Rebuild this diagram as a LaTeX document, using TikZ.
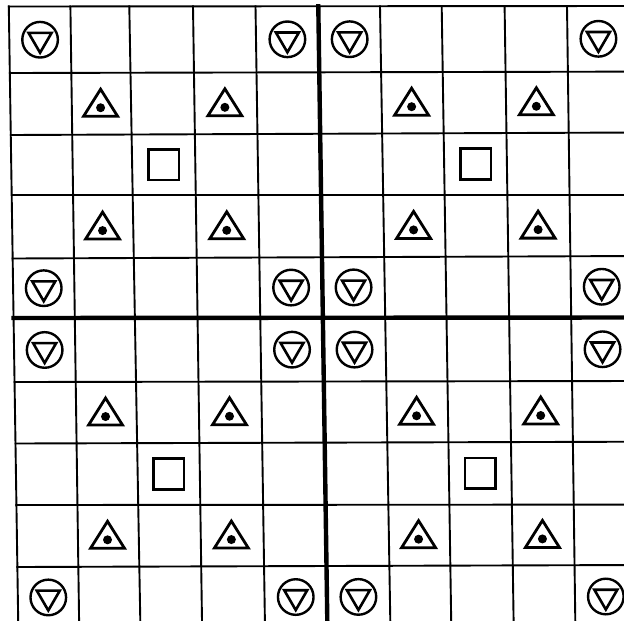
\documentclass[tikz,border=0pt]{standalone}
\begin{document}
\begin{tikzpicture}[x=1pt,y=-1pt,
  gridline/.style={line width=1.9pt, black, line cap=rect},
  boldline/.style={line width=4.4pt, black, line cap=rect},
  ringsym/.style={line width=2.4pt, black},
  downtri/.style={line width=2.6pt, black, line join=miter},
  uptri/.style={line width=2.8pt, black, line join=miter},
  squaresym/.style={line width=2.6pt, black},
]
\useasboundingbox (0,0) rectangle (624,621);
\fill[white] (0,0) rectangle (624,621);
\clip (0,0) rectangle (624,621);
\def\VT{{8.8,70.4,129.3,193,255.5,318.3,380,441.7,504.6,567,629}}
\def\VB{{18.2,79.1,140.3,202,264.9,327.3,390.3,451.2,513.6,575.3,637}}
\def\HL{{6.5,73,135,195,258.5,318,382,443.5,505,567,628}}
\def\HR{{6,71.6,132.5,195,256,317.5,381,441.7,504.6,565,628}}
\def\cellxy#1#2{%
  \pgfmathtruncatemacro\ip{#1+1}%
  \pgfmathtruncatemacro\jp{#2+1}%
  \pgfmathsetmacro\hla{\HL[#2]}%
  \pgfmathsetmacro\hlb{\HL[\jp]}%
  \pgfmathsetmacro\hra{\HR[#2]}%
  \pgfmathsetmacro\hrb{\HR[\jp]}%
  \pgfmathsetmacro\vta{\VT[#1]}%
  \pgfmathsetmacro\vtb{\VT[\ip]}%
  \pgfmathsetmacro\vba{\VB[#1]}%
  \pgfmathsetmacro\vbb{\VB[\ip]}%
  \pgfmathsetmacro\symy{(\hla+\hlb+\hra+\hrb)/4}%
  \pgfmathsetmacro\cellt{(\symy-6.8)/614.2}%
  \pgfmathsetmacro\symx{(\vta+\vtb+(\vba-\vta+\vbb-\vtb)*\cellt)/2}%
  \pgfmathsetmacro\cellu{(\symx-20)/584}%
  \pgfmathsetmacro\symy{((1-\cellu)*(\hla+\hlb)+\cellu*(\hra+\hrb))/2}%
}
% horizontal lines
\foreach \j in {0,...,9}{
  \pgfmathsetmacro\yl{\HL[\j]}
  \pgfmathsetmacro\yr{\HR[\j]}
  \pgfmathsetmacro\vta{\VT[0]}
  \pgfmathsetmacro\vba{\VB[0]}
  \pgfmathsetmacro\xl{\vta+(\vba-\vta)*(\yl-6.8)/614.2}
  \ifnum\j=5
    \draw[boldline] (\xl,\yl) -- (640,\yr);
  \else
    \draw[gridline] (\xl,\yl) -- (640,\yr);
  \fi
}
% vertical lines
\foreach \i in {0,...,9}{
  \pgfmathsetmacro\xt{\VT[\i]}
  \pgfmathsetmacro\xb{\VB[\i]}
  \ifnum\i=5
    \draw[boldline] (\xt,6.3) -- (\xb,621);
  \else
    \draw[gridline] (\xt,6.3) -- (\xb,621);
  \fi
}
% circled down triangles
\foreach \i in {0,4,5,9}{
  \foreach \j in {0,4,5,9}{
    \cellxy{\i}{\j}
    \draw[ringsym] (\symx,\symy) circle[radius=17.8pt];
    \draw[downtri, shift={(\symx,\symy)}] (-11.5,-6.8) -- (11.5,-6.8) -- (0,13) -- cycle;
  }
}
% up triangles with dot
\foreach \i in {1,3,6,8}{
  \foreach \j in {1,3,6,8}{
    \cellxy{\i}{\j}
    \draw[uptri, shift={(\symx,\symy)}] (-0.8,-14.5) -- (16.2,12.5) -- (-17.8,12.5) -- cycle;
    \fill[black, shift={(\symx,\symy)}] (-0.8,4) circle[radius=4.5pt];
  }
}
% squares
\foreach \i in {2,7}{
  \foreach \j in {2,7}{
    \cellxy{\i}{\j}
    \draw[squaresym, shift={(\symx,\symy)}] (-15.3,-15.3) rectangle (15.3,15.3);
  }
}
\end{tikzpicture}
\end{document}
